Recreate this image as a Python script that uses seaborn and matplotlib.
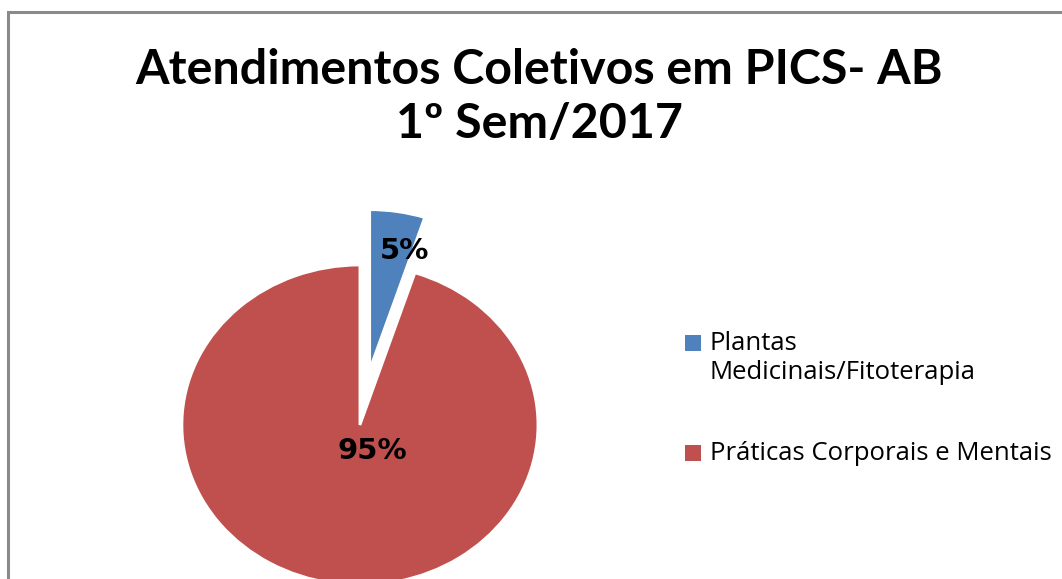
import matplotlib
matplotlib.use("Agg")
import matplotlib.pyplot as plt
import seaborn as sns
from matplotlib.patches import Rectangle

sns.set_theme(style="white")
plt.rcParams['font.family'] = ['Lato', 'DejaVu Sans']
plt.rcParams['text.color'] = 'black'

# data
categories = ["Plantas\nMedicinais/Fitoterapia", "Práticas Corporais e Mentais"]
values = [5, 95]
colors = ["#4F81BD", "#C0504D"]
explode = [0.35, 0]
title = "Atendimentos Coletivos em PICS- AB\n1º Sem/2017"

W, H = 1062, 579
fig = plt.figure(figsize=(W / 100, H / 100), dpi=100)
ax = fig.add_axes([0, 0, 1, 1])

wedges, texts, autotexts = ax.pie(
    values, colors=colors, explode=explode, startangle=90, counterclock=False,
    autopct="%1.0f%%", pctdistance=0.75,
    wedgeprops=dict(edgecolor="white", linewidth=2),
    textprops=dict(fontsize=21, fontweight="bold", color="black", family="DejaVu Sans"),
)
# move labels where the original puts them
autotexts[0].set_position((0.25, 1.09))
autotexts[1].set_position((0.07, -0.16))

# stretched (non-equal) pie like in the original screenshot
ax.set_aspect("auto")
ax.set_xlim(-2.022, 3.944)
ax.set_ylim(-0.9625, 2.656)
ax.axis("off")

fig.text(0.508, 1 - 97 / H, title, ha="center", va="center", fontsize=34.8,
         fontweight="bold", linespacing=1.3, color="black")

# legend drawn by hand so the key square sits on the first text line
sq = 16
key_y = [342.5, 453]
text_y = [358, 453]
for cat, col, ky, ty in zip(categories, colors, key_y, text_y):
    fig.patches.append(Rectangle((685 / W, 1 - (ky + sq / 2) / H), sq / W, sq / H,
                                 transform=fig.transFigure, facecolor=col,
                                 edgecolor="none"))
    fig.text(710 / W, 1 - ty / H, cat, ha="left", va="center", fontsize=18.5,
             family="Open Sans", linespacing=1.2, color="black")

# grey border of the chart area
fig.patches.append(Rectangle((8 / W, -0.1), 1.2, 1 - 11.5 / H + 0.1,
                             transform=fig.transFigure, fill=False,
                             edgecolor="#8a8a8a", linewidth=2.2))

fig.savefig("out.png", dpi=100)
